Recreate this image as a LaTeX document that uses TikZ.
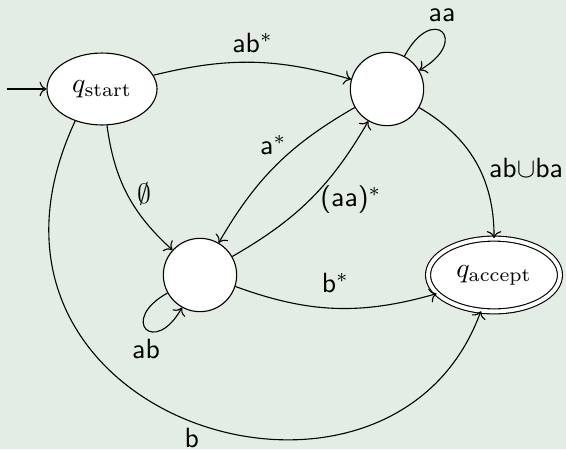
\documentclass[tikz,border=0pt]{standalone}
\usepackage{amsmath,amssymb}
\usepackage{tikz}
\usetikzlibrary{shapes.geometric,arrows.meta}
\usepackage{xcolor}
\definecolor{bgsage}{RGB}{228,237,228}

\begin{document}
\begin{tikzpicture}[x=0.36pt,y=0.36pt,
      state/.style={draw,circle,fill=white,minimum size=26.4pt,inner sep=0pt},
      ostate/.style={draw,ellipse,fill=white,inner sep=0pt},
      arr/.style={->},
      lbl/.style={font=\sffamily}]
    \fill[bgsage] (0,0) rectangle (566,449);
    \useasboundingbox (0,0) rectangle (566,449);

    \node[ostate,minimum width=39.6pt,minimum height=25.9pt] (start) at (102,360) {$q_{\text{start}}$};
    \node[state] (upper) at (387,360) {};
    \node[state] (lower) at (200,174) {};
    \node[ostate,double,double distance=1.4pt,minimum width=47.5pt,
          minimum height=26.2pt] (accept) at (494,174) {$q_{\text{accept}}$};
    \coordinate (init) at (7,360);

    \draw[arr] (init) -- (start);
    \draw[arr] (start) to[bend left=15] node[lbl,above] {ab$^*$} (upper);
    \draw[arr] (upper) to[out=62,in=30,looseness=7.5] node[lbl,above] {aa} (upper);
    \draw[arr] (start) to[bend right=20] node[right] {$\emptyset$} (lower);
    \draw[arr] (upper) to[bend right=15] node[lbl,above left,inner sep=0pt,pos=.42] {a$^*$} (lower);
    \draw[arr] (lower) to[bend right=15] node[lbl,right] {(aa)$^*$} (upper);
    \draw[arr] (upper) to[bend left=30] node[lbl,right,pos=.55] {ab$\cup$ba} (accept);
    \draw[arr] (lower) to[bend right=18] node[lbl,above=2pt] {b$^*$} (accept);
    \draw[arr] (lower) to[out=209,in=241,looseness=7] node[lbl,below] {ab} (lower);
    \draw[arr] (start.230) to[out=245,in=250,out distance=118.8pt,in distance=95.4pt]
      node[lbl,below,inner sep=2pt] {b} (accept);
\end{tikzpicture}
\end{document}
